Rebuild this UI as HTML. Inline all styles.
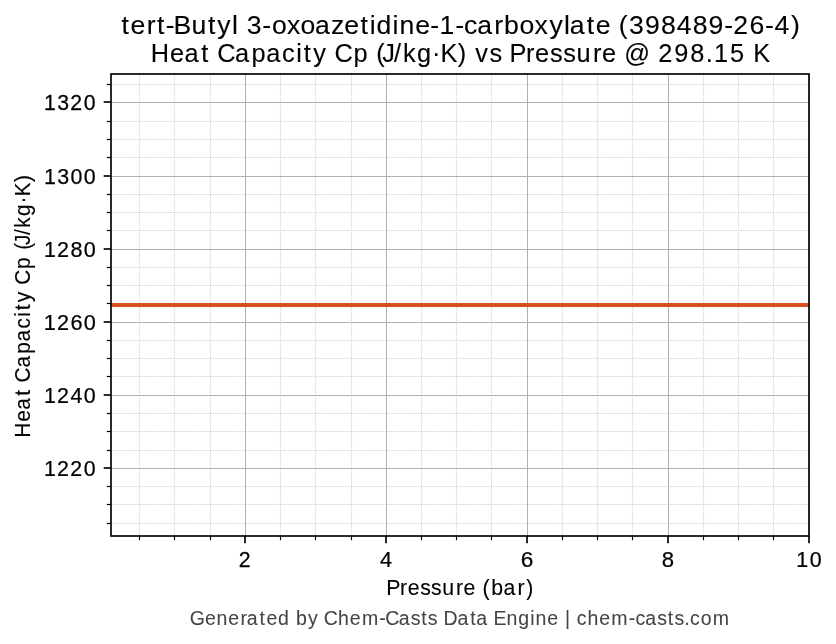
<!DOCTYPE html>
<html><head><meta charset="utf-8"><title>Heat Capacity Cp vs Pressure</title>
<style>html,body{margin:0;padding:0;background:#fff;}svg{display:block;}text{font-family:"Liberation Sans",sans-serif;}</style>
</head><body>
<svg width="836" height="644" viewBox="0 0 836 644">
<rect x="0" y="0" width="836" height="644" fill="#ffffff"/>
<g stroke="#d9d9d9" stroke-width="1.15" stroke-dasharray="1.6 0.9" stroke-dashoffset="0.715" fill="none">
<line x1="139.5" y1="536.12" x2="139.5" y2="74.0" stroke-dashoffset="2.425"/>
<line x1="174.5" y1="536.12" x2="174.5" y2="74.0" stroke-dashoffset="2.425"/>
<line x1="210.5" y1="536.12" x2="210.5" y2="74.0" stroke-dashoffset="2.425"/>
<line x1="280.5" y1="536.12" x2="280.5" y2="74.0" stroke-dashoffset="2.425"/>
<line x1="315.5" y1="536.12" x2="315.5" y2="74.0" stroke-dashoffset="2.425"/>
<line x1="351.5" y1="536.12" x2="351.5" y2="74.0" stroke-dashoffset="2.425"/>
<line x1="421.5" y1="536.12" x2="421.5" y2="74.0" stroke-dashoffset="2.425"/>
<line x1="456.5" y1="536.12" x2="456.5" y2="74.0" stroke-dashoffset="2.425"/>
<line x1="491.5" y1="536.12" x2="491.5" y2="74.0" stroke-dashoffset="2.425"/>
<line x1="562.5" y1="536.12" x2="562.5" y2="74.0" stroke-dashoffset="2.425"/>
<line x1="597.5" y1="536.12" x2="597.5" y2="74.0" stroke-dashoffset="2.425"/>
<line x1="632.5" y1="536.12" x2="632.5" y2="74.0" stroke-dashoffset="2.425"/>
<line x1="703.5" y1="536.12" x2="703.5" y2="74.0" stroke-dashoffset="2.425"/>
<line x1="738.5" y1="536.12" x2="738.5" y2="74.0" stroke-dashoffset="2.425"/>
<line x1="773.5" y1="536.12" x2="773.5" y2="74.0" stroke-dashoffset="2.425"/>
<line x1="111.04" y1="84.5" x2="809.0" y2="84.5"/>
<line x1="111.04" y1="121.5" x2="809.0" y2="121.5"/>
<line x1="111.04" y1="139.5" x2="809.0" y2="139.5"/>
<line x1="111.04" y1="157.5" x2="809.0" y2="157.5"/>
<line x1="111.04" y1="194.5" x2="809.0" y2="194.5"/>
<line x1="111.04" y1="212.5" x2="809.0" y2="212.5"/>
<line x1="111.04" y1="230.5" x2="809.0" y2="230.5"/>
<line x1="111.04" y1="267.5" x2="809.0" y2="267.5"/>
<line x1="111.04" y1="285.5" x2="809.0" y2="285.5"/>
<line x1="111.04" y1="303.5" x2="809.0" y2="303.5"/>
<line x1="111.04" y1="340.5" x2="809.0" y2="340.5"/>
<line x1="111.04" y1="358.5" x2="809.0" y2="358.5"/>
<line x1="111.04" y1="376.5" x2="809.0" y2="376.5"/>
<line x1="111.04" y1="413.5" x2="809.0" y2="413.5"/>
<line x1="111.04" y1="431.5" x2="809.0" y2="431.5"/>
<line x1="111.04" y1="450.5" x2="809.0" y2="450.5"/>
<line x1="111.04" y1="486.5" x2="809.0" y2="486.5"/>
<line x1="111.04" y1="504.5" x2="809.0" y2="504.5"/>
<line x1="111.04" y1="523.5" x2="809.0" y2="523.5"/>
</g>
<g stroke="#b0b0b0" stroke-width="1" fill="none">
<line x1="245.5" y1="536.0" x2="245.5" y2="74.0"/>
<line x1="386.5" y1="536.0" x2="386.5" y2="74.0"/>
<line x1="527.5" y1="536.0" x2="527.5" y2="74.0"/>
<line x1="668.5" y1="536.0" x2="668.5" y2="74.0"/>
<line x1="809.5" y1="536.0" x2="809.5" y2="74.0"/>
<line x1="111.0" y1="102.5" x2="809.0" y2="102.5"/>
<line x1="111.0" y1="176.5" x2="809.0" y2="176.5"/>
<line x1="111.0" y1="249.5" x2="809.0" y2="249.5"/>
<line x1="111.0" y1="322.5" x2="809.0" y2="322.5"/>
<line x1="111.0" y1="395.5" x2="809.0" y2="395.5"/>
<line x1="111.0" y1="468.5" x2="809.0" y2="468.5"/>
</g>
<line x1="111.0" y1="305" x2="809.0" y2="305" stroke="#d8501a" stroke-width="4.17"/>
<g stroke="#000" stroke-width="1.67" fill="none">
<line x1="245" y1="536.0" x2="245" y2="543.3"/>
<line x1="386" y1="536.0" x2="386" y2="543.3"/>
<line x1="527" y1="536.0" x2="527" y2="543.3"/>
<line x1="668" y1="536.0" x2="668" y2="543.3"/>
<line x1="809" y1="536.0" x2="809" y2="543.3"/>
<line x1="111.0" y1="102" x2="103.7" y2="102"/>
<line x1="111.0" y1="176" x2="103.7" y2="176"/>
<line x1="111.0" y1="249" x2="103.7" y2="249"/>
<line x1="111.0" y1="322" x2="103.7" y2="322"/>
<line x1="111.0" y1="395" x2="103.7" y2="395"/>
<line x1="111.0" y1="468" x2="103.7" y2="468"/>
</g>
<g stroke="#000" stroke-width="1.15" fill="none">
<line x1="139.5" y1="536.0" x2="139.5" y2="540.17"/>
<line x1="174.5" y1="536.0" x2="174.5" y2="540.17"/>
<line x1="210.5" y1="536.0" x2="210.5" y2="540.17"/>
<line x1="280.5" y1="536.0" x2="280.5" y2="540.17"/>
<line x1="315.5" y1="536.0" x2="315.5" y2="540.17"/>
<line x1="351.5" y1="536.0" x2="351.5" y2="540.17"/>
<line x1="421.5" y1="536.0" x2="421.5" y2="540.17"/>
<line x1="456.5" y1="536.0" x2="456.5" y2="540.17"/>
<line x1="491.5" y1="536.0" x2="491.5" y2="540.17"/>
<line x1="562.5" y1="536.0" x2="562.5" y2="540.17"/>
<line x1="597.5" y1="536.0" x2="597.5" y2="540.17"/>
<line x1="632.5" y1="536.0" x2="632.5" y2="540.17"/>
<line x1="703.5" y1="536.0" x2="703.5" y2="540.17"/>
<line x1="738.5" y1="536.0" x2="738.5" y2="540.17"/>
<line x1="773.5" y1="536.0" x2="773.5" y2="540.17"/>
<line x1="111.0" y1="84.5" x2="106.83" y2="84.5"/>
<line x1="111.0" y1="121.5" x2="106.83" y2="121.5"/>
<line x1="111.0" y1="139.5" x2="106.83" y2="139.5"/>
<line x1="111.0" y1="157.5" x2="106.83" y2="157.5"/>
<line x1="111.0" y1="194.5" x2="106.83" y2="194.5"/>
<line x1="111.0" y1="212.5" x2="106.83" y2="212.5"/>
<line x1="111.0" y1="230.5" x2="106.83" y2="230.5"/>
<line x1="111.0" y1="267.5" x2="106.83" y2="267.5"/>
<line x1="111.0" y1="285.5" x2="106.83" y2="285.5"/>
<line x1="111.0" y1="303.5" x2="106.83" y2="303.5"/>
<line x1="111.0" y1="340.5" x2="106.83" y2="340.5"/>
<line x1="111.0" y1="358.5" x2="106.83" y2="358.5"/>
<line x1="111.0" y1="376.5" x2="106.83" y2="376.5"/>
<line x1="111.0" y1="413.5" x2="106.83" y2="413.5"/>
<line x1="111.0" y1="431.5" x2="106.83" y2="431.5"/>
<line x1="111.0" y1="450.5" x2="106.83" y2="450.5"/>
<line x1="111.0" y1="486.5" x2="106.83" y2="486.5"/>
<line x1="111.0" y1="504.5" x2="106.83" y2="504.5"/>
<line x1="111.0" y1="523.5" x2="106.83" y2="523.5"/>
</g>
<rect x="111.0" y="74.0" width="698.0" height="462.0" fill="none" stroke="#000" stroke-width="1.67"/>
<g style="opacity:0.999">
<text transform="scale(1.0167,1)" x="119.59 128.46 144.34 154.47 163.09 170.61 188.33 204.56 213.78 228.19 234.46 242.76 258.02 267.55 282.25 295.63 309.78 325.49 338.71 354.61 363.69 370.33 386.13 393.00 408.34 423.21 432.38 447.73 456.46 469.42 486.20 495.84 511.10 525.80 540.36 554.76 560.43 577.23 586.10 600.87 608.50 618.76 634.34 650.11 665.76 681.40 696.92 712.25 721.20 737.20 752.42 761.73 777.97" y="34" font-size="26.2" fill="#000" stroke="#000" stroke-width="0.12">tert-Butyl 3-oxoazetidine-1-carboxylate (398489-26-4)</text>
<text transform="scale(0.9684,1)" x="155.71 175.60 190.51 207.94 216.70 224.31 242.69 259.80 274.89 291.25 305.89 313.69 323.51 337.73 345.34 365.01 380.35 388.61 394.73 406.89 416.12 430.62 446.02 454.79 472.78 481.48 490.76 505.39 518.42 526.10 543.15 552.52 568.09 581.54 595.43 612.34 621.71 636.86 644.75 670.89 679.63 696.32 712.87 728.77 737.37 753.80 769.43 777.94" y="62" font-size="26.2" fill="#000" stroke="#000" stroke-width="0.12">Heat Capacity Cp (J/kg·K) vs Pressure @ 298.15 K</text>
<text transform="scale(0.9809,1)" x="44.84 58.41 71.66 85.43" y="110.00" font-size="21.7" fill="#000" stroke="#000" stroke-width="0.25">1320</text>
<text transform="scale(0.9883,1)" x="44.45 57.92 71.34 84.75" y="184.00" font-size="21.7" fill="#000" stroke="#000" stroke-width="0.25">1300</text>
<text transform="scale(0.9939,1)" x="44.17 57.30 70.95 84.24" y="257.00" font-size="21.7" fill="#000" stroke="#000" stroke-width="0.25">1280</text>
<text transform="scale(0.9993,1)" x="43.89 56.96 70.53 83.75" y="330.00" font-size="21.7" fill="#000" stroke="#000" stroke-width="0.25">1260</text>
<text transform="scale(0.9881,1)" x="44.46 57.67 71.40 84.76" y="403.00" font-size="21.7" fill="#000" stroke="#000" stroke-width="0.25">1240</text>
<text transform="scale(0.9837,1)" x="44.69 57.96 71.43 85.17" y="476.00" font-size="21.7" fill="#000" stroke="#000" stroke-width="0.25">1220</text>
<text transform="scale(0.9811,1)" x="243.35" y="567" font-size="21.7" fill="#000" stroke="#000" stroke-width="0.25">2</text>
<text transform="scale(0.9977,1)" x="380.86" y="567" font-size="21.7" fill="#000" stroke="#000" stroke-width="0.25">4</text>
<text transform="scale(1.0426,1)" x="499.41" y="567" font-size="21.7" fill="#000" stroke="#000" stroke-width="0.25">6</text>
<text transform="scale(1.0207,1)" x="648.43" y="567" font-size="21.7" fill="#000" stroke="#000" stroke-width="0.25">8</text>
<text transform="scale(0.9863,1)" x="807.39 820.89" y="567" font-size="21.7" fill="#000" stroke="#000" stroke-width="0.25">10</text>
<text transform="scale(0.9810,1)" x="393.83 407.88 415.57 428.39 439.45 450.87 464.80 472.49 485.00 491.77 500.86 513.27 527.66 536.37" y="595" font-size="21.7" fill="#000" stroke="#000" stroke-width="0.12">Pressure (bar)</text>
<g transform="translate(30,438.05) rotate(-90)">
<text transform="scale(0.9600,1)" x="0.33 17.02 29.56 44.16 51.47 57.99 73.42 87.80 100.49 114.22 126.48 133.05 141.34 153.21 159.73 176.23 189.03 196.04 201.20 211.39 219.19 231.38 244.29 251.73 266.77" y="0" font-size="21.7" fill="#000" stroke="#000" stroke-width="0.12">Heat Capacity Cp (J/kg·K)</text>
</g>
<text transform="scale(0.9815,1)" x="193.21 208.76 220.70 232.62 244.92 251.50 264.47 271.43 283.19 294.91 301.61 313.77 324.41 329.86 344.37 356.33 368.74 386.45 392.56 406.20 418.42 429.13 435.87 445.63 451.88 466.08 479.06 485.28 497.32 502.73 516.06 527.98 540.19 545.60 557.52 568.87 575.56 581.38 587.53 598.50 610.47 622.87 640.58 647.40 657.49 669.72 680.42 687.16 697.15 703.09 713.86 726.25" y="625" font-size="19.9" fill="#444444" stroke="#444444" stroke-width="0.06">Generated by Chem-Casts Data Engine | chem-casts.com</text>
</g>
</svg>
</body></html>
